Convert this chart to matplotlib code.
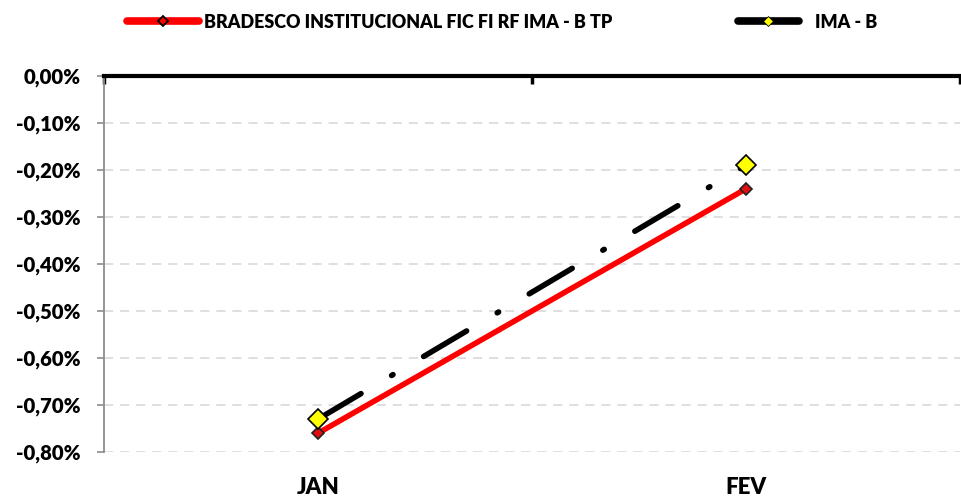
import matplotlib
matplotlib.use("Agg")
import matplotlib.pyplot as plt
from matplotlib.lines import Line2D
from matplotlib.ticker import FuncFormatter

categories = ["JAN", "FEV"]
fund_name = "BRADESCO INSTITUCIONAL FIC FI RF IMA - B TP"
bench_name = "IMA - B"
fund_values = [-0.76, -0.24]
bench_values = [-0.73, -0.19]
yticks = [0.0, -0.1, -0.2, -0.3, -0.4, -0.5, -0.6, -0.7, -0.8]

FAM = ['Lato', 'DejaVu Sans']
WT = 'heavy'
plt.rcParams['font.family'] = FAM
plt.rcParams['font.weight'] = WT

W, H = 962, 499
fig = plt.figure(figsize=(W/100, H/100), dpi=100)
ax = fig.add_axes([104/W, 1-452/H, (960-104)/W, (452-76)/H])

x = [0.5, 1.5]
ax.plot(x, fund_values, color='#ff0000', lw=4.0, solid_capstyle='round', zorder=3,
        marker='D', markersize=6, markerfacecolor='#e01010', markeredgecolor='#222222', markeredgewidth=1.2)
ax.plot(x, bench_values, color='black', lw=4.0, dashes=(9, 6.4, 0.3, 6.4), dash_capstyle='round', zorder=4,
        marker='D', markersize=10.5, markerfacecolor='#ffff00', markeredgecolor='black', markeredgewidth=1.2)

ax.set_xlim(0, 2)
ax.set_ylim(-0.8, 0.0)
ax.set_yticks(yticks)
ax.yaxis.set_major_formatter(FuncFormatter(lambda v, p: ("%.2f%%" % v).replace('.', ',').replace('-0,00', '0,00')))
ax.grid(axis='y', color='#d6d6d6', linestyle=(0, (6, 4.5)), lw=1.1, zorder=0)

for s in ['right', 'bottom']:
    ax.spines[s].set_visible(False)
ax.spines['left'].set_color('#8c8c8c')
ax.spines['left'].set_linewidth(1.3)
ax.spines['top'].set_color('black')
ax.spines['top'].set_linewidth(3.0)
ax.spines['top'].set_zorder(5)

ax.tick_params(axis='y', colors='#8c8c8c', length=5, width=1.2, labelcolor='black', labelsize=14.6, pad=12)
for lbl in ax.get_yticklabels():
    lbl.set_fontweight(WT)
ax.set_xticks([0, 1, 2])
ax.tick_params(axis='x', top=True, bottom=False, labeltop=False, labelbottom=False,
               direction='in', length=6, width=2.5, color='black')

for xi, c in zip(x, categories):
    ax.annotate(c, xy=(xi, -0.8), xycoords='data', xytext=(0, -35), textcoords='offset pixels',
                ha='center', va='center', fontsize=16, fontweight=WT, color='black')

h1 = Line2D([], [], color='#ff0000', lw=5.5, solid_capstyle='round', marker='D', markersize=5.5,
            markerfacecolor='#ff0000', markeredgecolor='black', markeredgewidth=1.3)
h2 = Line2D([], [], color='black', lw=5.5, solid_capstyle='round', marker='D', markersize=5.5,
            markerfacecolor='#ffff00', markeredgecolor='black', markeredgewidth=0.6)
prop = {'family': FAM, 'weight': WT, 'size': 12.9}
leg1 = fig.legend([h1], [fund_name], loc='center left', bbox_to_anchor=(127/W, 1-22/H),
                  frameon=False, handlelength=4.0, handletextpad=0.3, borderaxespad=0, borderpad=0, prop=prop)
leg2 = fig.legend([h2], [bench_name], loc='center left', bbox_to_anchor=(738/W, 1-22/H),
                  frameon=False, handlelength=3.4, handletextpad=0.9, borderaxespad=0, borderpad=0, prop=prop)

for l in ax.lines:
    l.set_clip_on(False)

fig.savefig("out.png", dpi=100)
